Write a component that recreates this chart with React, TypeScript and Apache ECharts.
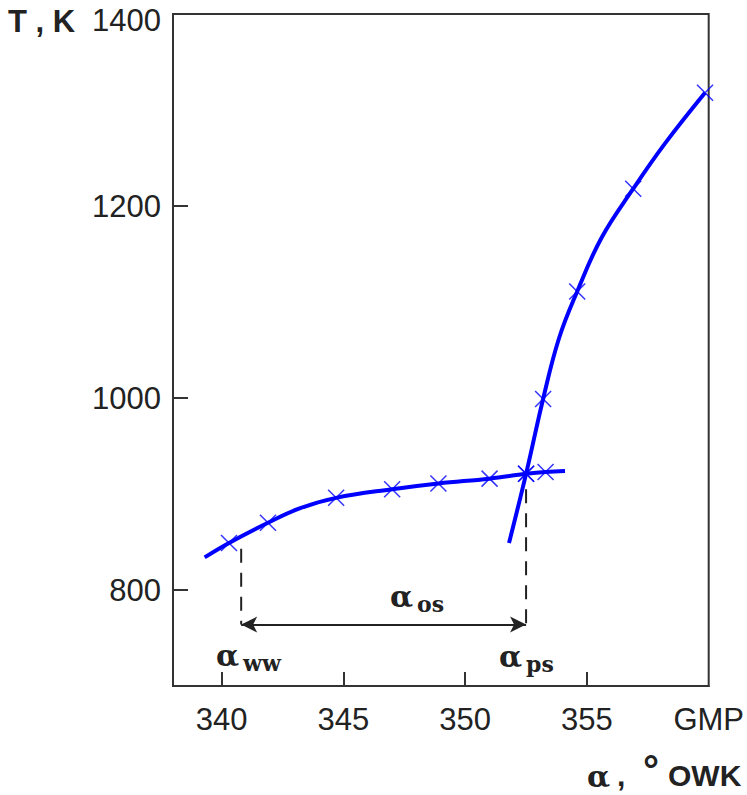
import React, { useEffect, useRef } from "react";
import * as echarts from "echarts";

// Flat curve (line trace) and its markers
const lowLineAngle = [339.3, 340.3, 341.9, 343.2, 344.7, 347.0, 348.9, 351.0, 352.5, 353.3, 354.1];
const lowLineT = [834, 849, 870, 885, 896, 905, 911, 916, 921, 923, 924];
const lowMarkAngle = [340.3, 341.9, 344.7, 347.0, 348.9, 351.0, 352.5, 353.3];
const lowMarkT = [849, 870, 896, 905, 911, 916, 921, 923];

// Steep curve (line trace) and its markers
const highLineAngle = [351.8, 352.5, 353.2, 353.85, 354.6, 355.6, 356.9, 358.2, 359.85];
const highLineT = [849, 921, 999, 1062, 1111, 1167, 1218, 1265, 1318];
const highMarkAngle = [352.5, 353.2, 354.6, 356.9, 359.85];
const highMarkT = [921, 999, 1111, 1218, 1318];

// Annotation angles
const alphaWW = 340.8;
const alphaPS = 352.5;
const arrowT = 764;
const wwTopT = 843;
const psTopT = 905;

const xTicks = [340, 345, 350, 355];
const xLabels = [340, 345, 350, 355, 360];
const yTicks = [800, 1000, 1200, 1400];

const BLUE = "#0000ff";
const INK = "#222222";
const TICK_FONT = "'Liberation Sans', Arial, sans-serif";
const SANS = "'Liberation Sans', Arial, sans-serif";
const SERIF = "'DejaVu Serif', 'Liberation Serif', serif";

const zip = (a: number[], b: number[]) => a.map((v, i) => [v, b[i]]);
const XMARK = "path://M0,0L10,10M10,0L0,10";

export default function App() {
  const ref = useRef<HTMLDivElement>(null);
  useEffect(() => {
    if (!ref.current) return;
    const chart = echarts.init(ref.current, null, { renderer: "svg" });
    const dashed = { color: INK, width: 2, type: [14, 10] as any };
    const option: any = {
      animation: false,
      grid: {
        left: 173,
        right: 36,
        top: 14,
        bottom: 109,
        show: true,
        borderColor: "#333",
        borderWidth: 2,
        backgroundColor: "transparent",
      },
      xAxis: {
        type: "value",
        min: 338,
        max: 360,
        axisLine: { show: true, onZero: false, lineStyle: { color: "#333", width: 2 } },
        axisTick: {
          show: true,
          inside: true,
          length: 14,
          customValues: xTicks,
          lineStyle: { color: "#333", width: 2 },
        },
        axisLabel: {
          customValues: xLabels,
          formatter: (v: number) => (v === 360 ? "GMP" : String(v)),
          fontFamily: TICK_FONT,
          fontSize: 31,
          color: INK,
          margin: 18,
        },
        splitLine: { show: false },
      },
      yAxis: {
        type: "value",
        min: 700,
        max: 1400,
        axisLine: { show: true, onZero: false, lineStyle: { color: "#333", width: 2 } },
        axisTick: {
          show: true,
          inside: true,
          length: 15,
          customValues: yTicks,
          lineStyle: { color: "#333", width: 2 },
        },
        axisLabel: {
          customValues: yTicks,
          formatter: (v: number) => (v === 1400 ? "{t|1400}" : String(v)),
          rich: {
            t: {
              fontFamily: TICK_FONT,
              fontSize: 31,
              color: INK,
              padding: [12, 0, 0, 0],
            },
          },
          fontFamily: TICK_FONT,
          fontSize: 31,
          color: INK,
          margin: 12,
        },
        splitLine: { show: false },
      },
      series: [
        {
          type: "line",
          data: zip(lowLineAngle, lowLineT),
          smooth: 0.4,
          symbol: "none",
          lineStyle: { color: BLUE, width: 4 },
          z: 3,
        },
        {
          type: "line",
          data: zip(highLineAngle, highLineT),
          smooth: 0.4,
          symbol: "none",
          lineStyle: { color: BLUE, width: 4 },
          z: 3,
        },
        {
          type: "scatter",
          data: zip(lowMarkAngle, lowMarkT).concat(zip(highMarkAngle, highMarkT)),
          symbol: XMARK,
          symbolSize: 16,
          itemStyle: { color: "none", borderColor: BLUE, borderWidth: 1.5 },
          z: 4,
        },
        {
          type: "line",
          data: [
            [alphaWW, wwTopT],
            [alphaWW, arrowT],
          ],
          symbol: "none",
          lineStyle: dashed,
          z: 2,
        },
        {
          type: "line",
          data: [
            [alphaPS, psTopT],
            [alphaPS, arrowT],
          ],
          symbol: "none",
          lineStyle: dashed,
          z: 2,
          markLine: {
            silent: true,
            symbol: ["arrow", "arrow"],
            symbolSize: [12, 16],
            label: { show: false },
            lineStyle: { color: INK, width: 2, type: "solid" },
            data: [[{ coord: [alphaWW, arrowT] }, { coord: [alphaPS, arrowT] }]],
          },
        },
      ],
      graphic: [
        {
          type: "text",
          x: 8,
          y: 21,
          style: { text: "T , K", font: `bold 31px ${SANS}`, fill: INK, verticalAlign: "middle" },
        },
        // alpha_os
        {
          type: "text",
          x: 390,
          y: 596,
          style: { text: "α", font: `bold 30px ${SERIF}`, fill: INK, verticalAlign: "middle" },
        },
        {
          type: "text",
          x: 417,
          y: 604,
          style: { text: "os", font: `bold 22px ${SERIF}`, fill: INK, verticalAlign: "middle" },
        },
        // alpha_ww
        {
          type: "text",
          x: 216,
          y: 655,
          style: { text: "α", font: `bold 30px ${SERIF}`, fill: INK, verticalAlign: "middle" },
        },
        {
          type: "text",
          x: 243,
          y: 663,
          style: { text: "ww", font: `bold 22px ${SERIF}`, fill: INK, verticalAlign: "middle" },
        },
        // alpha_ps
        {
          type: "text",
          x: 499,
          y: 656,
          style: { text: "α", font: `bold 30px ${SERIF}`, fill: INK, verticalAlign: "middle" },
        },
        {
          type: "text",
          x: 526,
          y: 664,
          style: { text: "ps", font: `bold 22px ${SERIF}`, fill: INK, verticalAlign: "middle" },
        },
        // x axis name
        {
          type: "text",
          x: 587,
          y: 776,
          style: { text: "α", font: `bold 30px ${SERIF}`, fill: INK, verticalAlign: "middle" },
        },
        {
          type: "text",
          x: 617,
          y: 775,
          style: { text: ",", font: `bold 30px ${SANS}`, fill: INK, verticalAlign: "middle" },
        },
        {
          type: "text",
          x: 643,
          y: 770,
          style: { text: "°", font: `bold 40px ${SANS}`, fill: INK, verticalAlign: "middle" },
        },
        {
          type: "text",
          x: 668,
          y: 775,
          style: { text: "OWK", font: `bold 30px ${SANS}`, fill: INK, verticalAlign: "middle" },
        },
      ],
    };
    chart.setOption(option);
    return () => chart.dispose();
  }, []);
  return (
    <div
      ref={ref}
      style={{ position: "absolute", left: 0, top: 0, width: 747, height: 795 }}
    />
  );
}
